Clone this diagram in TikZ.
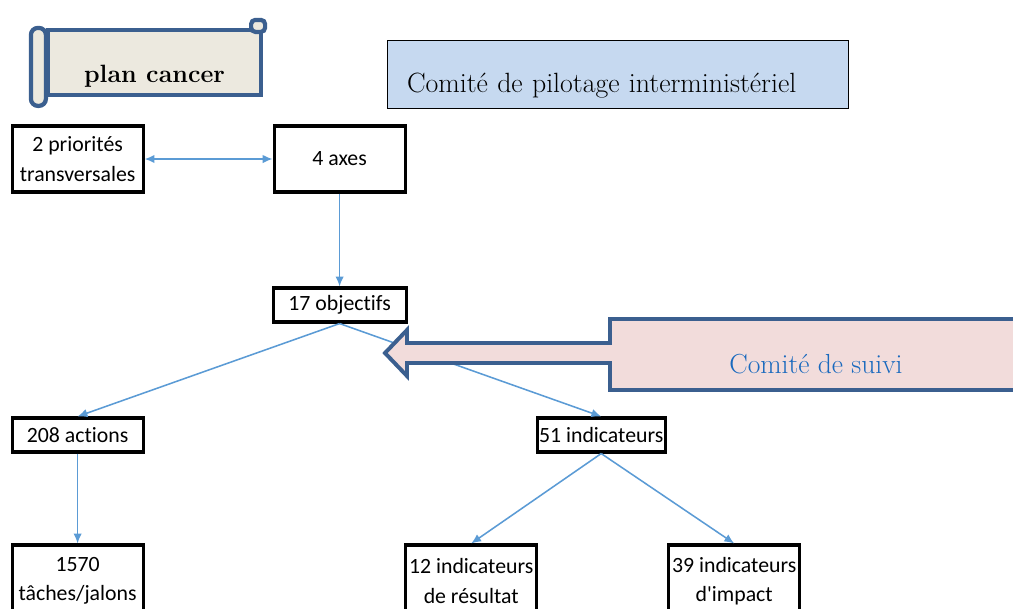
\documentclass[tikz,border=0pt]{standalone}
\usepackage{fontspec}
\newfontfamily\boxfont[Ligatures=NoCommon]{Carlito}
\usetikzlibrary{arrows,arrows.meta}

\definecolor{linkblue}{RGB}{91,155,213}
\definecolor{scrollblue}{RGB}{59,95,143}
\definecolor{scrollfill}{RGB}{236,233,223}
\definecolor{pilotfill}{RGB}{198,217,240}
\definecolor{suivifill}{RGB}{242,220,219}
\definecolor{suivitext}{RGB}{25,105,190}

\begin{document}
\begin{tikzpicture}[>={Latex[length=7pt,width=6pt]},auto,node distance=2cm,
                    box node/.style={rectangle,draw,line width=2.2pt,
                      minimum width=3.275cm,minimum height=1.65cm,align=center,
                      inner sep=0pt,font=\boxfont\fontsize{15.5}{21}\selectfont},
                    flat node/.style={box node,minimum height=0.85cm},
                    low node/.style={box node,minimum height=1.8cm},
                    scroll/.style={draw=scrollblue,fill=scrollfill,line width=3pt},
                    link/.style={draw=linkblue,color=linkblue,line width=1.1pt}]
  \useasboundingbox (0,0) rectangle (25.325,-15.2);
  \clip (0,0) rectangle (25.325,-15.2);

  % titles
  \node[scroll,minimum width=5.325cm,minimum height=1.625cm,inner sep=0pt,
        text height=1.075cm,text depth=0.1cm,
        font=\bfseries\fontsize{17.8}{20}\selectfont] (plan) at (3.8625,-1.5625) {plan cancer};
  \draw[scroll,rounded corners=5pt] (plan.north west) ++(-0.375,0) rectangle ++(0.375,-1.95);
  \draw[scroll,rounded corners=3pt] (plan.north east) ++(-0.3,-0.1) rectangle ++(0.35,0.3);
  \node[draw,line width=0.7pt,fill=pilotfill,minimum width=11.525cm,minimum height=1.7cm,
        inner xsep=0.5cm,inner ysep=0pt,text width=10.525cm,align=left,
        text height=1.2cm,text depth=0.3cm,
        font=\fontsize{19.8}{22}\selectfont] (pilot) at (15.4375,-1.85) {Comité de pilotage interministériel};

  % boxes
  \node[box node] (prio) at (1.94,-3.975) {2 priorités\\transversales};
  \node[box node] (axes) [right of=prio,node distance=6.55cm] {4 axes};
  \node[flat node,minimum width=3.325cm] (obj) [below of=axes,node distance=3.65cm] {17 objectifs};
  \node[flat node] (actions) [below of=prio,node distance=6.9cm] {208 actions};
  \node[flat node,minimum width=3.2cm] (ind51) at (15.03,-10.875) {51 indicateurs};
  \node[low node] (tasks) [below of=actions,node distance=3.65cm] {1570\\tâches/jalons};
  \node[low node] (ind12) at (11.78,-14.525) {12 indicateurs\\de résultat};
  \node[low node] (ind39) [right of=ind12,node distance=6.575cm] {39 indicateurs\\d'impact};

  \path[link,every edge/.append style={link}]
    (prio) edge[<->] (axes)
    (axes) edge[->] (obj)
    (obj.south) edge[->] (actions.north)
    (obj.south) edge[->] (ind51.north)
    (actions) edge[->] (tasks)
    (ind51.south) edge[->] (ind12.north)
    (ind51.south) edge[->] (ind39.north)
    ;

  % comite de suivi
  \draw[scroll,fill=suivifill,line width=2.8pt] (15.25,-7.975) -- (25.6,-7.975) -- (25.6,-9.75)
    -- (15.25,-9.75) -- (15.25,-9.075) -- (10.175,-9.075) -- (10.175,-9.4) -- (9.625,-8.825)
    -- (10.175,-8.25) -- (10.175,-8.575) -- (15.25,-8.575) -- cycle;
  \node[text=suivitext,font=\fontsize{19.6}{22}\selectfont] (suivi) at (20.4,-9.1) {Comité de suivi};
\end{tikzpicture}
\end{document}
